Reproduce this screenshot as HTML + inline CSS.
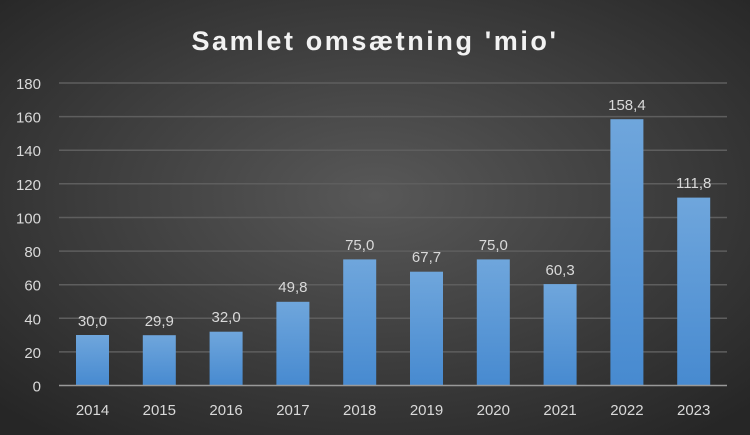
<!DOCTYPE html>
<html><head><meta charset="utf-8"><style>body{margin:0}svg{display:block}</style></head><body>
<svg width="750" height="435" xmlns="http://www.w3.org/2000/svg" font-family="'Liberation Sans',sans-serif">
<defs>
<radialGradient id="bg" cx="50%" cy="45%" r="70%">
<stop offset="0" stop-color="#585858"/><stop offset="1" stop-color="#262626"/>
</radialGradient>
<linearGradient id="bar" x1="0" y1="0" x2="0" y2="1">
<stop offset="0" stop-color="#6fa6dc"/><stop offset="1" stop-color="#478ad0"/>
</linearGradient>
</defs>
<rect width="750" height="435" fill="url(#bg)"/>
<text x="375" y="50" text-anchor="middle" font-size="27" font-weight="bold" fill="#f2f2f2" letter-spacing="2.6">Samlet omsætning 'mio'</text>
<g stroke="#5e5e5e" stroke-width="1.5">
<line x1="59" x2="727" y1="83" y2="83"/><line x1="59" x2="727" y1="116.6" y2="116.6"/>
<line x1="59" x2="727" y1="150.2" y2="150.2"/><line x1="59" x2="727" y1="183.8" y2="183.8"/>
<line x1="59" x2="727" y1="217.5" y2="217.5"/><line x1="59" x2="727" y1="251.1" y2="251.1"/>
<line x1="59" x2="727" y1="284.7" y2="284.7"/><line x1="59" x2="727" y1="318.3" y2="318.3"/>
<line x1="59" x2="727" y1="351.9" y2="351.9"/>
</g>
<g font-size="15" fill="#d9d9d9" text-anchor="end">
<text x="41" y="89">180</text><text x="41" y="122.6">160</text><text x="41" y="156.2">140</text>
<text x="41" y="189.8">120</text><text x="41" y="223.5">100</text><text x="41" y="257.1">80</text>
<text x="41" y="290.7">60</text><text x="41" y="324.3">40</text><text x="41" y="357.9">20</text>
<text x="41" y="391.5">0</text>
</g>
<g fill="url(#bar)">
<rect x="76" y="335" width="33" height="50.5"/>
<rect x="142.8" y="335.2" width="33" height="50.3"/>
<rect x="209.6" y="331.7" width="33" height="53.8"/>
<rect x="276.4" y="301.8" width="33" height="83.7"/>
<rect x="343.2" y="259.4" width="33" height="126.1"/>
<rect x="410" y="271.7" width="33" height="113.8"/>
<rect x="476.8" y="259.4" width="33" height="126.1"/>
<rect x="543.6" y="284.1" width="33" height="101.4"/>
<rect x="610.4" y="119.2" width="33" height="266.3"/>
<rect x="677.2" y="197.6" width="33" height="187.9"/>
</g>
<line x1="59" x2="727" y1="385.5" y2="385.5" stroke="#999" stroke-width="1.5"/>
<g font-size="15" fill="#d9d9d9" text-anchor="middle">
<text x="92.5" y="326">30,0</text><text x="159.3" y="326">29,9</text><text x="226.1" y="322">32,0</text>
<text x="292.9" y="292">49,8</text><text x="359.7" y="250">75,0</text><text x="426.5" y="262">67,7</text>
<text x="493.3" y="250">75,0</text><text x="560.1" y="275">60,3</text><text x="626.9" y="110">158,4</text>
<text x="693.7" y="188">111,8</text>
</g>
<g font-size="15" fill="#d9d9d9" text-anchor="middle">
<text x="92.5" y="415">2014</text><text x="159.3" y="415">2015</text><text x="226.1" y="415">2016</text>
<text x="292.9" y="415">2017</text><text x="359.7" y="415">2018</text><text x="426.5" y="415">2019</text>
<text x="493.3" y="415">2020</text><text x="560.1" y="415">2021</text><text x="626.9" y="415">2022</text>
<text x="693.7" y="415">2023</text>
</g>
</svg>
</body></html>
